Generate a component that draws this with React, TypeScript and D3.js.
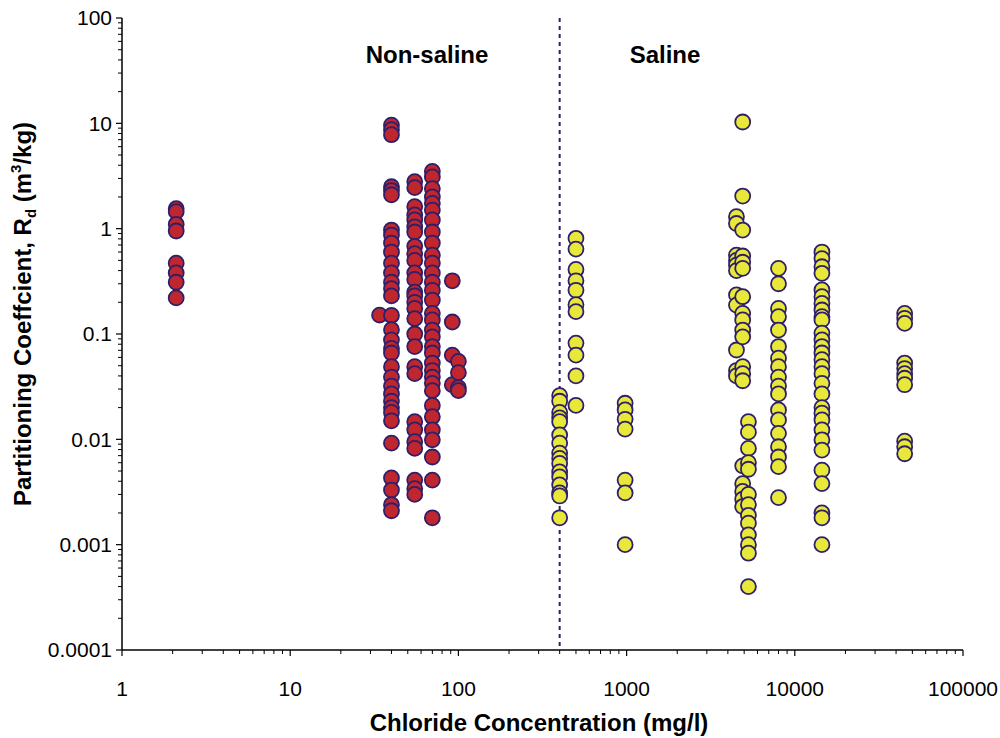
import React from "react";
import * as d3 from "d3";

// Non-saline (red) columns: chloride value and Rd values
const nonSalineX = [2.1, 34, 40, 55, 70, 92, 100];
const nonSalineY: number[][] = [
  [1.55, 1.45, 1.1, 0.95, 0.47, 0.38, 0.31, 0.22],
  [0.151],
  [9.6, 8.7, 7.8, 2.5, 2.3, 2.1, 0.97, 0.87, 0.73, 0.6, 0.47, 0.38, 0.31, 0.27, 0.23, 0.15, 0.11, 0.088, 0.073, 0.066, 0.049, 0.039, 0.032, 0.027, 0.023, 0.02, 0.018, 0.015, 0.0092, 0.0043, 0.0033, 0.0024, 0.0021],
  [2.8, 2.45, 1.62, 1.35, 1.21, 1.04, 0.93, 0.68, 0.58, 0.5, 0.38, 0.33, 0.25, 0.23, 0.2, 0.175, 0.14, 0.1, 0.076, 0.049, 0.042, 0.0147, 0.0123, 0.0095, 0.0082, 0.0041, 0.0034, 0.003],
  [3.5, 3.1, 2.4, 2.0, 1.74, 1.5, 1.21, 0.93, 0.73, 0.56, 0.47, 0.38, 0.31, 0.26, 0.21, 0.157, 0.136, 0.109, 0.094, 0.076, 0.066, 0.053, 0.045, 0.039, 0.034, 0.029, 0.021, 0.0164, 0.0123, 0.0099, 0.0068, 0.0041, 0.0018],
  [0.32, 0.13, 0.063, 0.033],
  [0.055, 0.043, 0.031, 0.029],
];

// Saline (yellow) columns
const salineX = [400, 500, 980, 4500, 4900, 5300, 8000, 14500, 45000];
const salineY: number[][] = [
  [0.026, 0.023, 0.018, 0.016, 0.0147, 0.011, 0.0092, 0.0074, 0.0066, 0.0059, 0.0049, 0.0044, 0.0037, 0.0031, 0.0029, 0.0018],
  [0.81, 0.64, 0.41, 0.32, 0.26, 0.19, 0.163, 0.082, 0.063, 0.04, 0.021],
  [0.022, 0.019, 0.0155, 0.0125, 0.0041, 0.0031, 0.001],
  [1.3, 1.12, 0.56, 0.5, 0.45, 0.4, 0.235, 0.188, 0.0705, 0.045, 0.04],
  [10.3, 2.04, 0.97, 0.55, 0.48, 0.42, 0.226, 0.157, 0.136, 0.109, 0.094, 0.049, 0.042, 0.036, 0.0056, 0.0038, 0.0032, 0.0027, 0.0023],
  [0.0147, 0.0117, 0.0082, 0.006, 0.0052, 0.003, 0.0024, 0.0019, 0.0016, 0.00124, 0.001, 0.00083, 0.0004],
  [0.42, 0.3, 0.175, 0.146, 0.109, 0.076, 0.059, 0.049, 0.039, 0.032, 0.027, 0.019, 0.0153, 0.0114, 0.0085, 0.0068, 0.0055, 0.0028],
  [0.6, 0.52, 0.435, 0.377, 0.262, 0.226, 0.195, 0.169, 0.146, 0.136, 0.102, 0.088, 0.076, 0.066, 0.057, 0.049, 0.042, 0.034, 0.027, 0.02, 0.0177, 0.0153, 0.0123, 0.0099, 0.0079, 0.0051, 0.0038, 0.002, 0.0018, 0.001],
  [0.157, 0.141, 0.126, 0.053, 0.047, 0.042, 0.038, 0.033, 0.0096, 0.0085, 0.0073],
];

const xTickValues = [1, 10, 100, 1000, 10000, 100000];
const xTickLabels = ["1", "10", "100", "1000", "10000", "100000"];
const yTickValues = [0.0001, 0.001, 0.01, 0.1, 1, 10, 100];
const yTickLabels = ["0.0001", "0.001", "0.01", "0.1", "1", "10", "100"];
const boundaryX = 400;

const W = 1000;
const H = 738;
const left = 122;
const right = 963;
const top = 18;
const bottom = 650;

export default function App() {
  const x = d3.scaleLog().domain([1, 100000]).range([left, right]);
  const y = d3.scaleLog().domain([0.0001, 100]).range([bottom, top]);

  const minorX: number[] = [];
  for (let d = 1; d < 100000; d *= 10) for (let k = 2; k <= 9; k++) minorX.push(d * k);
  const minorY: number[] = [];
  for (let d = 0.0001; d < 99; d *= 10) for (let k = 2; k <= 9; k++) minorY.push(d * k);

  const font = "'Liberation Sans', Arial, sans-serif";
  const navy = "#2E1F6B";

  const pts = (xs: number[], ys: number[][]) =>
    xs.flatMap((xv, i) => ys[i].map((yv) => [xv, yv] as [number, number]));

  const red = pts(nonSalineX, nonSalineY);
  const yellow = pts(salineX, salineY);

  return (
    <svg width={W} height={H} style={{ position: "absolute", left: 0, top: 0, background: "#fff" }} fontFamily={font}>
      {/* boundary dotted line */}
      <line x1={x(boundaryX)} x2={x(boundaryX)} y1={top} y2={bottom} stroke={navy} strokeWidth={2} strokeDasharray="4,4" />

      {/* markers */}
      {red.map(([a, b], i) => (
        <circle key={"r" + i} cx={x(a)} cy={y(b)} r={7.5} fill="#C0262D" stroke={navy} strokeWidth={1.8} />
      ))}
      {yellow.map(([a, b], i) => (
        <circle key={"y" + i} cx={x(a)} cy={y(b)} r={7.5} fill="#E8E83A" stroke={navy} strokeWidth={1.8} />
      ))}

      {/* axes */}
      <line x1={left} x2={left} y1={top} y2={bottom} stroke="#000" strokeWidth={1.5} />
      <line x1={left} x2={right} y1={bottom} y2={bottom} stroke="#000" strokeWidth={1.5} />
      {yTickValues.map((v, i) => (
        <g key={"yt" + i}>
          <line x1={left - 6} x2={left} y1={y(v)} y2={y(v)} stroke="#000" strokeWidth={1.2} />
          <text x={left - 10} y={y(v)} dy="0.35em" textAnchor="end" fontSize={21}>{yTickLabels[i]}</text>
        </g>
      ))}
      {minorY.map((v, i) => (
        <line key={"ym" + i} x1={left - 4} x2={left} y1={y(v)} y2={y(v)} stroke="#000" strokeWidth={1} />
      ))}
      {xTickValues.map((v, i) => (
        <g key={"xt" + i}>
          <line x1={x(v)} x2={x(v)} y1={bottom} y2={bottom + 6} stroke="#000" strokeWidth={1.2} />
          <text x={x(v)} y={bottom + 46} textAnchor="middle" fontSize={21}>{xTickLabels[i]}</text>
        </g>
      ))}
      {minorX.map((v, i) => (
        <line key={"xm" + i} x1={x(v)} x2={x(v)} y1={bottom} y2={bottom + 4} stroke="#000" strokeWidth={1} />
      ))}

      {/* region labels */}
      <text x={427} y={63} textAnchor="middle" fontSize={24} fontWeight="bold">Non-saline</text>
      <text x={665} y={63} textAnchor="middle" fontSize={24} fontWeight="bold">Saline</text>

      {/* axis titles */}
      <text x={539} y={731} textAnchor="middle" fontSize={24} fontWeight="bold">Chloride Concentration (mg/l)</text>
      <text transform={`translate(31,314) rotate(-90)`} textAnchor="middle" fontSize={24} fontWeight="bold">
        Partitioning Coeffcient, R<tspan fontSize={15} dy="5">d</tspan><tspan dy="-5"> (m</tspan><tspan fontSize={15} dy="-10">3</tspan><tspan dy="10">/kg)</tspan>
      </text>
    </svg>
  );
}
